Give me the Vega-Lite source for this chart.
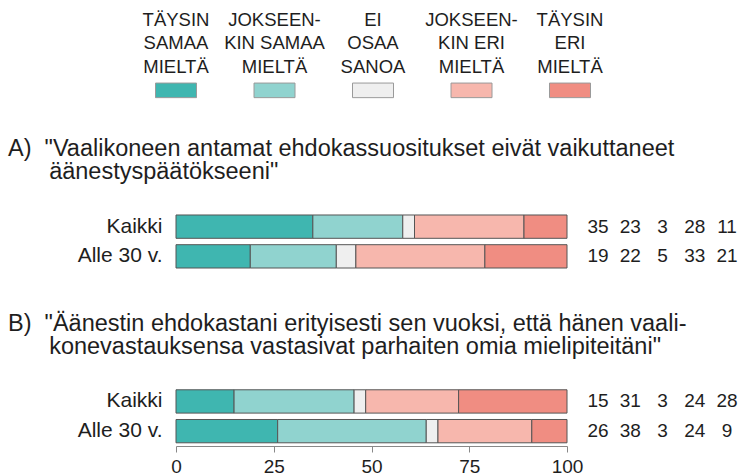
{
  "$schema": "https://vega.github.io/schema/vega-lite/v6.json",
  "padding": {"left": 8, "top": 0, "right": 4, "bottom": 2},
  "background": "white",
  "config": {"view": {"stroke": null}, "font": "Liberation Sans"},
  "datasets": {
    "legend": [
      {"answer": "Täysin samaa mieltä", "label": "TÄYSIN\nSAMAA\nMIELTÄ"},
      {"answer": "Jokseenkin samaa mieltä", "label": "JOKSEEN-\nKIN SAMAA\nMIELTÄ"},
      {"answer": "Ei osaa sanoa", "label": "EI\nOSAA\nSANOA"},
      {"answer": "Jokseenkin eri mieltä", "label": "JOKSEEN-\nKIN ERI\nMIELTÄ"},
      {"answer": "Täysin eri mieltä", "label": "TÄYSIN\nERI\nMIELTÄ"}
    ],
    "survey": [
      {"item": "A", "group": "Kaikki", "code": 1, "answer": "Täysin samaa mieltä", "pct": 35},
      {"item": "A", "group": "Kaikki", "code": 2, "answer": "Jokseenkin samaa mieltä", "pct": 23},
      {"item": "A", "group": "Kaikki", "code": 3, "answer": "Ei osaa sanoa", "pct": 3},
      {"item": "A", "group": "Kaikki", "code": 4, "answer": "Jokseenkin eri mieltä", "pct": 28},
      {"item": "A", "group": "Kaikki", "code": 5, "answer": "Täysin eri mieltä", "pct": 11},
      {"item": "A", "group": "Alle 30 v.", "code": 1, "answer": "Täysin samaa mieltä", "pct": 19},
      {"item": "A", "group": "Alle 30 v.", "code": 2, "answer": "Jokseenkin samaa mieltä", "pct": 22},
      {"item": "A", "group": "Alle 30 v.", "code": 3, "answer": "Ei osaa sanoa", "pct": 5},
      {"item": "A", "group": "Alle 30 v.", "code": 4, "answer": "Jokseenkin eri mieltä", "pct": 33},
      {"item": "A", "group": "Alle 30 v.", "code": 5, "answer": "Täysin eri mieltä", "pct": 21},
      {"item": "B", "group": "Kaikki", "code": 1, "answer": "Täysin samaa mieltä", "pct": 15},
      {"item": "B", "group": "Kaikki", "code": 2, "answer": "Jokseenkin samaa mieltä", "pct": 31},
      {"item": "B", "group": "Kaikki", "code": 3, "answer": "Ei osaa sanoa", "pct": 3},
      {"item": "B", "group": "Kaikki", "code": 4, "answer": "Jokseenkin eri mieltä", "pct": 24},
      {"item": "B", "group": "Kaikki", "code": 5, "answer": "Täysin eri mieltä", "pct": 28},
      {"item": "B", "group": "Alle 30 v.", "code": 1, "answer": "Täysin samaa mieltä", "pct": 26},
      {"item": "B", "group": "Alle 30 v.", "code": 2, "answer": "Jokseenkin samaa mieltä", "pct": 38},
      {"item": "B", "group": "Alle 30 v.", "code": 3, "answer": "Ei osaa sanoa", "pct": 3},
      {"item": "B", "group": "Alle 30 v.", "code": 4, "answer": "Jokseenkin eri mieltä", "pct": 24},
      {"item": "B", "group": "Alle 30 v.", "code": 5, "answer": "Täysin eri mieltä", "pct": 9}
    ]
  },
  "spacing": 114.8,
  "bounds": "flush",
  "vconcat": [
    {
      "width": 394,
      "height": 97,
      "data": {"name": "legend"},
      "layer": [
        {
          "mark": {"type": "text", "lineBreak": "\n", "fontSize": 18.5, "lineHeight": 23.4, "baseline": "middle", "align": "center", "color": "#1e1e1e"},
          "encoding": {
            "x": {"field": "answer", "type": "nominal", "axis": null, "scale": {"type": "point", "padding": 0, "domain": ["Täysin samaa mieltä", "Jokseenkin samaa mieltä", "Ei osaa sanoa", "Jokseenkin eri mieltä", "Täysin eri mieltä"]}},
            "y": {"datum": "a", "type": "nominal", "axis": null, "scale": {"type": "point", "domain": ["a", "b", "c", "d"], "padding": 0.567, "align": 0.75}},
            "text": {"field": "label"}
          }
        },
        {
          "mark": {"type": "point", "shape": "M-1,-0.356H1V0.356H-1Z", "filled": true, "size": 1681, "stroke": "#9a9a9a", "strokeWidth": 1, "opacity": 1},
          "encoding": {
            "x": {"field": "answer", "type": "nominal", "axis": null},
            "y": {"datum": "d", "type": "nominal", "axis": null},
            "color": {"field": "answer", "type": "nominal", "legend": null, "scale": {"domain": ["Täysin samaa mieltä", "Jokseenkin samaa mieltä", "Ei osaa sanoa", "Jokseenkin eri mieltä", "Täysin eri mieltä"], "range": ["#3fb6b0", "#90d3cf", "#efefef", "#f7b7ad", "#f08d82"]}}
          }
        }
      ]
    },
    {
      "width": 391,
      "height": 59.4,
      "title": {"text": ["A)\u00a0\u00a0\"Vaalikoneen antamat ehdokassuositukset eivät vaikuttaneet", "\u200b\u00a0\u00a0\u00a0\u00a0\u00a0\u00a0\u200aäänestyspäätökseeni\""], "anchor": "start", "frame": "group", "dx": -168, "fontSize": 23.5, "fontWeight": "normal", "lineHeight": 23.5, "baseline": "bottom", "offset": 4, "color": "#1e1e1e", "font": "Liberation Sans"},
      "data": {"name": "survey"},
      "transform": [{"filter": {"field": "item", "equal": "A"}}],
      "layer": [
        {
          "mark": {"type": "bar", "stroke": "#555555", "strokeWidth": 1},
          "encoding": {
            "y": {"field": "group", "type": "nominal", "sort": ["Kaikki", "Alle 30 v."], "scale": {"paddingInner": 0.215, "paddingOuter": 0.1075}, "axis": {"title": null, "domain": false, "ticks": false, "labelFontSize": 21, "labelPadding": 14, "labelColor": "#1e1e1e", "labelFont": "Liberation Sans"}},
            "x": {"field": "pct", "type": "quantitative", "stack": "normalize", "axis": null, "scale": {"domain": [0, 1]}},
            "color": {"field": "answer", "type": "nominal", "legend": null, "scale": {"domain": ["Täysin samaa mieltä", "Jokseenkin samaa mieltä", "Ei osaa sanoa", "Jokseenkin eri mieltä", "Täysin eri mieltä"], "range": ["#3fb6b0", "#90d3cf", "#efefef", "#f7b7ad", "#f08d82"]}},
            "order": {"field": "code", "type": "quantitative"}
          }
        },
        {
          "mark": {"type": "text", "fontSize": 19, "color": "#1e1e1e", "align": "center", "baseline": "middle"},
          "encoding": {
            "y": {"field": "group", "type": "nominal", "sort": ["Kaikki", "Alle 30 v."]},
            "x": {"field": "code", "type": "ordinal", "axis": null, "scale": {"type": "point", "padding": 0, "range": [422, 551]}},
            "text": {"field": "pct", "type": "quantitative"}
          }
        }
      ],
      "resolve": {"scale": {"x": "independent"}}
    },
    {
      "width": 391,
      "height": 59.4,
      "title": {"text": ["B)\u00a0\u00a0\"Äänestin ehdokastani erityisesti sen vuoksi, että hänen vaali-", "\u200b\u00a0\u00a0\u00a0\u00a0\u00a0\u00a0\u200akonevastauksensa vastasivat parhaiten omia mielipiteitäni\""], "anchor": "start", "frame": "group", "dx": -168, "fontSize": 23.5, "fontWeight": "normal", "lineHeight": 23.5, "baseline": "bottom", "offset": 4, "color": "#1e1e1e", "font": "Liberation Sans"},
      "data": {"name": "survey"},
      "transform": [{"filter": {"field": "item", "equal": "B"}}],
      "layer": [
        {
          "mark": {"type": "bar", "stroke": "#555555", "strokeWidth": 1},
          "encoding": {
            "y": {"field": "group", "type": "nominal", "sort": ["Kaikki", "Alle 30 v."], "scale": {"paddingInner": 0.215, "paddingOuter": 0.1075}, "axis": {"title": null, "domain": false, "ticks": false, "labelFontSize": 21, "labelPadding": 14, "labelColor": "#1e1e1e", "labelFont": "Liberation Sans"}},
            "x": {"field": "pct", "type": "quantitative", "stack": "normalize", "scale": {"domain": [0, 1]}, "axis": {"title": null, "values": [0, 0.25, 0.5, 0.75, 1], "labelExpr": "format(datum.value * 100, 'd')", "grid": false, "domainColor": "#888888", "tickColor": "#888888", "tickSize": 6, "labelFontSize": 19, "labelPadding": 5, "labelColor": "#1e1e1e", "labelFlush": false, "labelOverlap": false}},
            "color": {"field": "answer", "type": "nominal", "legend": null, "scale": {"domain": ["Täysin samaa mieltä", "Jokseenkin samaa mieltä", "Ei osaa sanoa", "Jokseenkin eri mieltä", "Täysin eri mieltä"], "range": ["#3fb6b0", "#90d3cf", "#efefef", "#f7b7ad", "#f08d82"]}},
            "order": {"field": "code", "type": "quantitative"}
          }
        },
        {
          "mark": {"type": "text", "fontSize": 19, "color": "#1e1e1e", "align": "center", "baseline": "middle"},
          "encoding": {
            "y": {"field": "group", "type": "nominal", "sort": ["Kaikki", "Alle 30 v."]},
            "x": {"field": "code", "type": "ordinal", "axis": null, "scale": {"type": "point", "padding": 0, "range": [422, 551]}},
            "text": {"field": "pct", "type": "quantitative"}
          }
        }
      ],
      "resolve": {"scale": {"x": "independent"}}
    }
  ]
}
